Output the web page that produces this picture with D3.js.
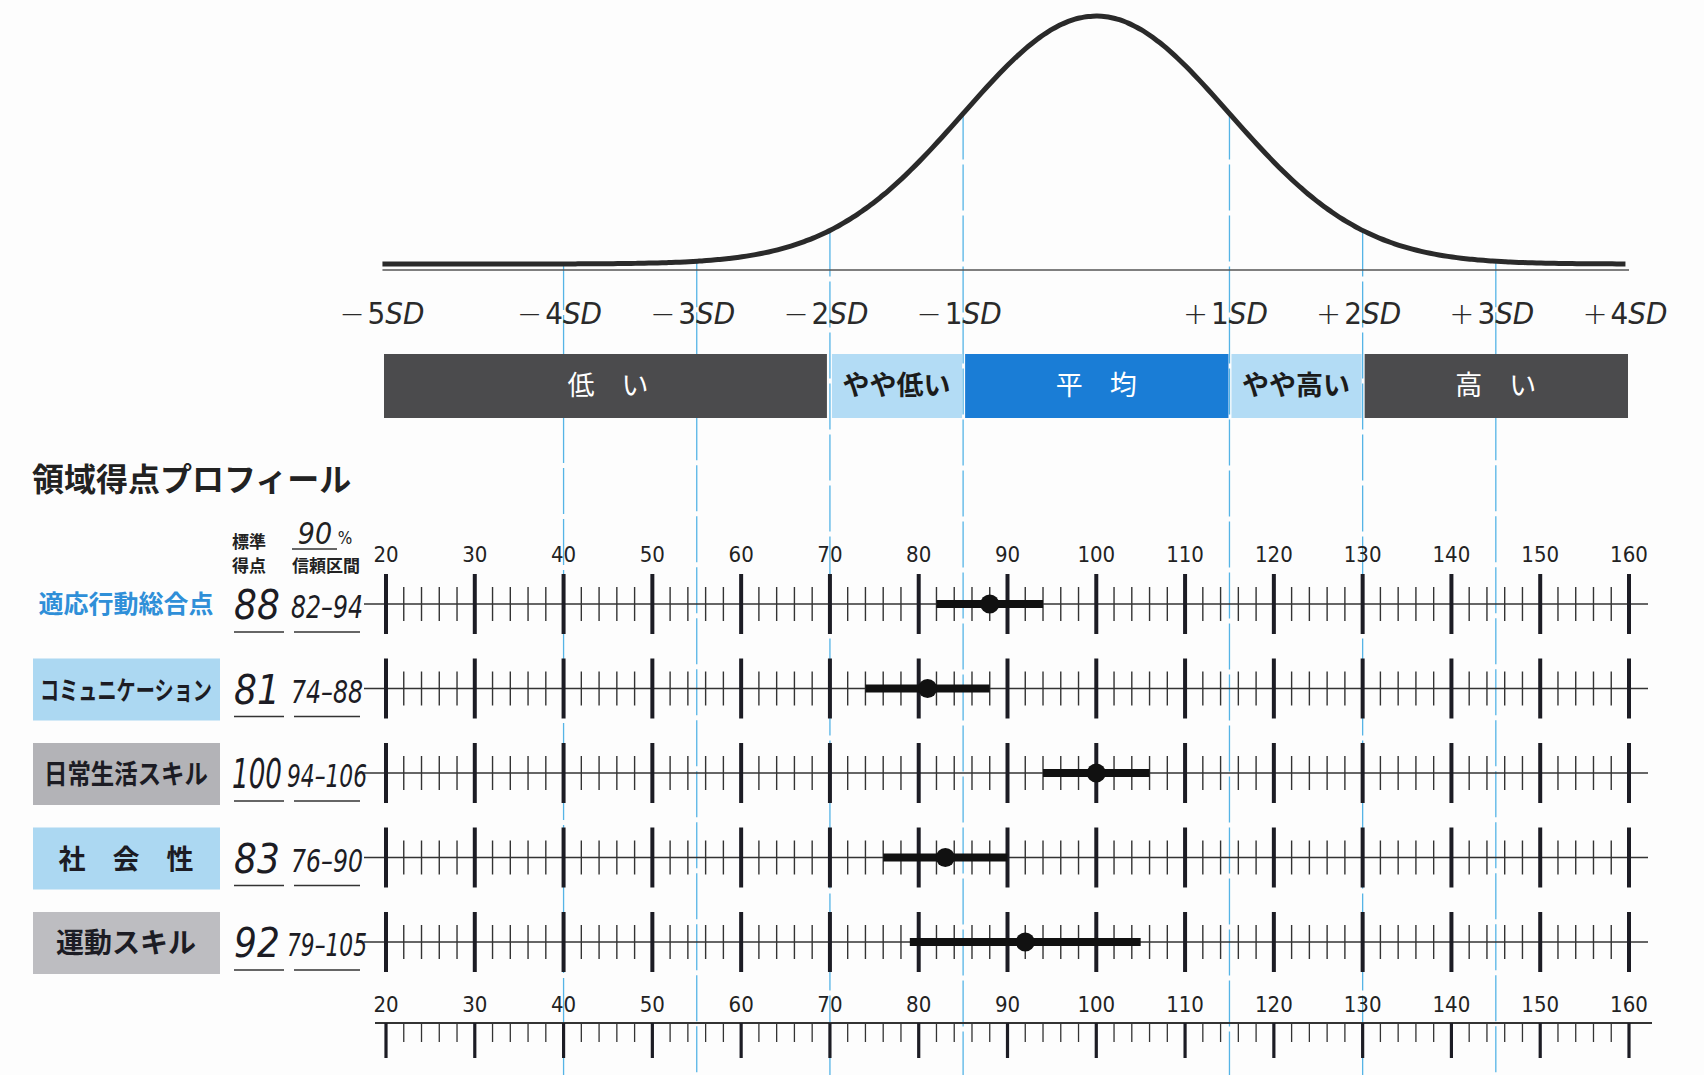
<!DOCTYPE html>
<html><head><meta charset="utf-8">
<script src="https://cdn.jsdelivr.net/npm/d3@7"></script>
<style>
html,body{margin:0;padding:0;background:#fdfdfd;}
svg{display:block;}
.jp{font-family:"Noto Sans CJK JP","Noto Sans",sans-serif;}
.num{font-family:"Liberation Sans Narrow","DejaVu Sans Condensed",sans-serif;}
</style>
</head><body>
<svg id="c" width="1704" height="1075"></svg>
<script>
// ---- data ----
const rowNames = ["適応行動総合点","コミュニケーション","日常生活スキル","社　会　性","運動スキル"];
const rowBoxColors = [null,"#acd8f2","#b3b3b7","#acd8f2","#bdbdc1"];
const scores = [88,81,100,83,92];
const ciLow = [82,74,94,76,79];
const ciHigh = [94,88,106,90,105];
const majorTicks = [20,30,40,50,60,70,80,90,100,110,120,130,140,150,160];
const minorTicks = [22,24,26,28,32,34,36,38,42,44,46,48,52,54,56,58,62,64,66,68,72,74,76,78,82,84,86,88,92,94,96,98,102,104,106,108,112,114,116,118,122,124,126,128,132,134,136,138,142,144,146,148,152,154,156,158];
const sdLabels = ["5","4","3","2","1","1","2","3","4"];
const sdSigns = ["−","−","−","−","−","+","+","+","+"];
const sdLabelAt = [20,40,55,70,85,115,130,145,160];
const sdLines = [40,55,70,85,115,130,145];
const bandNames = ["低　い","やや低い","平　均","やや高い","高　い"];
const bandFrom = [20,70,85,115,130];
const bandTo = [70,85,115,130,160];
const bandFill = ["#4b4b4d","#b3dcf5","#1a7dd6","#b3dcf5","#4b4b4d"];
const bandText = ["#ffffff","#1b1b1b","#ffffff","#1b1b1b","#ffffff"];
const mean = 100, sd = 15;

// ---- layout ----
const svg = d3.select("#c");
const x = d3.scaleLinear().domain([20,160]).range([386,1629]);
const rowY = d3.scalePoint().domain(d3.range(rowNames.length)).range([604,942]);

// squeeze a centred text horizontally so its width is at most w
function fitWidth(t, cx, cy, w){
  const bw = t.node().getBBox().width;
  const s = Math.min(1, w/bw);
  t.attr("x",0).attr("y",0).attr("transform",`translate(${cx},${cy}) scale(${s},1)`);
}

// bell curve
const pdf = v => Math.exp(-0.5*((v-mean)/sd)**2);
const yc = d3.scaleLinear().domain([0,1]).range([264,16]);
const curveVals = d3.range(19.6,160.01,0.5);

// blue SD lines (behind)
svg.append("g").selectAll("line").data(sdLines).join("line")
  .attr("x1",d=>x(d)).attr("x2",d=>x(d))
  .attr("y1",d=>yc(pdf(d))).attr("y2",1075)
  .attr("stroke","#55b4e6").attr("stroke-width",1.3)
  .attr("stroke-dasharray","46 5");

svg.append("line").attr("x1",x(19.6)).attr("x2",x(160)).attr("y1",270).attr("y2",270)
  .attr("stroke","#555").attr("stroke-width",1.5);
svg.append("path").datum(curveVals)
  .attr("d",d3.line().x(d=>x(d)).y(d=>yc(pdf(d))).curve(d3.curveBasis))
  .attr("fill","none").attr("stroke","#2a2a2a").attr("stroke-width",5);

// SD labels
const sdg = svg.append("g").selectAll("text").data(sdLabelAt).join("text")
  .attr("class","num").attr("x",d=>x(d)-4).attr("y",324)
  .attr("text-anchor","middle").attr("font-size",31).attr("fill","#2a2a2a");
sdg.append("tspan").text((d,i)=>sdSigns[i]).attr("font-family","DejaVu Sans").attr("font-weight",200).attr("font-size",30);
sdg.append("tspan").text((d,i)=>sdLabels[i]).attr("dx",3);
sdg.append("tspan").text("SD").attr("font-style","italic");

// bands
const bg = svg.append("g");
bg.selectAll("rect").data(bandNames).join("rect")
  .attr("x",(d,i)=>x(bandFrom[i])+(i?2:-2)).attr("width",(d,i)=>x(bandTo[i])-x(bandFrom[i])-(i?3:1))
  .attr("y",354).attr("height",64).attr("fill",(d,i)=>bandFill[i]);
bg.selectAll("text").data(bandNames).join("text")
  .attr("class","jp").attr("x",(d,i)=>(x(bandFrom[i])+x(bandTo[i]))/2).attr("y",395)
  .attr("text-anchor","middle").attr("font-size",27).attr("font-weight",(d,i)=>i%2?700:400)
  .attr("fill",(d,i)=>bandText[i]).text(d=>d);

// title and headers
svg.append("text").attr("class","jp").attr("x",32).attr("y",491).attr("font-size",32)
  .attr("font-weight",700).attr("fill","#222").text("領域得点プロフィール");
svg.append("text").attr("class","jp").attr("x",249).attr("y",548).attr("text-anchor","middle")
  .attr("font-size",17).attr("font-weight",700).attr("fill","#222").text("標準");
svg.append("text").attr("class","jp").attr("x",249).attr("y",572).attr("text-anchor","middle")
  .attr("font-size",17).attr("font-weight",700).attr("fill","#222").text("得点");
svg.append("text").attr("class","num").attr("x",315).attr("y",544).attr("text-anchor","middle")
  .attr("font-size",30).attr("font-style","italic").attr("fill","#222").text("90");
svg.append("text").attr("class","num").attr("x",345).attr("y",544).attr("text-anchor","middle")
  .attr("font-size",17).attr("fill","#222").text("%");
svg.append("line").attr("x1",292).attr("x2",337).attr("y1",549).attr("y2",549).attr("stroke","#333").attr("stroke-width",1.5);
svg.append("text").attr("class","jp").attr("x",326).attr("y",572).attr("text-anchor","middle")
  .attr("font-size",17).attr("font-weight",700).attr("fill","#222").text("信頼区間");

// top tick labels
svg.append("g").selectAll("text").data(majorTicks).join("text")
  .attr("class","num").attr("x",d=>x(d)).attr("y",562).attr("text-anchor","middle")
  .attr("font-size",22).attr("fill","#222").text(d=>d);

// rows
const labelSize = [25,26,27,27,28];
const labelLen = [183,172,164,142,150];
rowNames.forEach((name,i)=>{
  const y0 = rowY(i);
  const g = svg.append("g");
  if(rowBoxColors[i]){
    g.append("rect").attr("x",33).attr("y",y0-30).attr("width",187).attr("height",62).attr("fill",rowBoxColors[i]);
  }
  const lt = g.append("text").attr("class","jp").attr("text-anchor","middle")
    .attr("font-size",labelSize[i]).attr("font-weight",700).attr("fill",i?"#1c1c24":"#2f8fd8").text(name);
  fitWidth(lt,126,y0+(i?11:9),labelLen[i]);
  const st = g.append("text").attr("class","num").attr("text-anchor","middle")
    .attr("font-size",40).attr("font-style","italic").attr("fill","#1c1c24").text(scores[i]);
  fitWidth(st,257,y0+15,50);
  const ct = g.append("text").attr("class","num").attr("text-anchor","middle")
    .attr("font-size",32).attr("font-style","italic").attr("fill","#1c1c24")
    .text(ciLow[i]+"–"+ciHigh[i]);
  fitWidth(ct,327,y0+14,(String(ciLow[i]).length+String(ciHigh[i]).length>4)?80:72);
  g.append("line").attr("x1",234).attr("x2",284).attr("y1",y0+28).attr("y2",y0+28).attr("stroke","#333").attr("stroke-width",1.6);
  g.append("line").attr("x1",294).attr("x2",360).attr("y1",y0+28).attr("y2",y0+28).attr("stroke","#333").attr("stroke-width",1.6);
  // axis
  g.append("line").attr("x1",364).attr("x2",1648).attr("y1",y0).attr("y2",y0).attr("stroke","#333").attr("stroke-width",1.6);
  g.selectAll(".mn").data(minorTicks).join("line").attr("class","mn")
    .attr("x1",d=>x(d)).attr("x2",d=>x(d)).attr("y1",y0-17).attr("y2",y0+17)
    .attr("stroke","#333").attr("stroke-width",1.4);
  g.selectAll(".mj").data(majorTicks).join("line").attr("class","mj")
    .attr("x1",d=>x(d)).attr("x2",d=>x(d)).attr("y1",y0-30).attr("y2",y0+30)
    .attr("stroke","#1c1c24").attr("stroke-width",4);
  // CI and score
  g.append("line").attr("x1",x(ciLow[i])).attr("x2",x(ciHigh[i])).attr("y1",y0).attr("y2",y0)
    .attr("stroke","#111").attr("stroke-width",8);
  g.append("circle").attr("cx",x(scores[i])).attr("cy",y0).attr("r",9.5).attr("fill","#111");
});

// bottom axis
const by = 1023;
svg.append("g").selectAll("text").data(majorTicks).join("text")
  .attr("class","num").attr("x",d=>x(d)).attr("y",1012).attr("text-anchor","middle")
  .attr("font-size",22).attr("fill","#222").text(d=>d);
svg.append("line").attr("x1",375).attr("x2",1652).attr("y1",by).attr("y2",by).attr("stroke","#333").attr("stroke-width",2);
svg.append("g").selectAll("line").data(minorTicks).join("line")
  .attr("x1",d=>x(d)).attr("x2",d=>x(d)).attr("y1",by).attr("y2",by+19)
  .attr("stroke","#333").attr("stroke-width",1.3);
svg.append("g").selectAll("line").data(majorTicks).join("line")
  .attr("x1",d=>x(d)).attr("x2",d=>x(d)).attr("y1",by).attr("y2",by+35)
  .attr("stroke","#1c1c24").attr("stroke-width",3.2);
</script>
</body></html>
